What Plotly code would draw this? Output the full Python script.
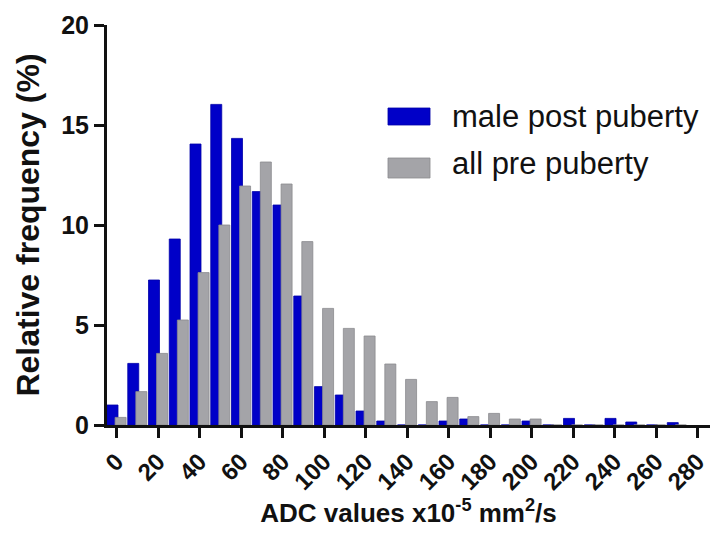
import plotly.graph_objects as go

# ADC bins (x10^-5 mm^2/s), bin centres
adc_bins = [0, 10, 20, 30, 40, 50, 60, 70, 80, 90, 100, 110, 120, 130,
            140, 150, 160, 170, 180, 190, 200, 210, 220, 230, 240, 250, 260, 270]
male_post = [1.0, 3.08, 7.25, 9.3, 14.05, 16.03, 14.33, 11.67, 11.0, 6.45,
             1.92, 1.5, 0.7, 0.2, 0, 0, 0.2, 0.3, 0, 0,
             0.2, 0, 0.33, 0, 0.33, 0.15, 0, 0.12]
all_pre = [0.38, 1.67, 3.58, 5.25, 7.62, 10.0, 11.95, 13.15, 12.05, 9.17,
           5.83, 4.83, 4.45, 3.05, 2.28, 1.17, 1.38, 0.42, 0.58, 0.3,
           0.3, 0, 0, 0, 0, 0, 0, 0]
x_ticks = list(range(0, 281, 20))
y_ticks = [0, 5, 10, 15, 20]

BLUE = "#0000C8"
GRAY = "#A4A4A8"
FONT = "Liberation Sans, Arial, sans-serif"

fig = go.Figure()
fig.add_trace(go.Bar(x=adc_bins, y=male_post, name="male post puberty",
                     width=5.3, offset=-4.6,
                     marker=dict(color=BLUE, line=dict(color="#0000A8", width=0.8)),
                     showlegend=False))
fig.add_trace(go.Bar(x=adc_bins, y=all_pre, name="all pre puberty",
                     width=5.3, offset=-0.7,
                     marker=dict(color=GRAY, line=dict(color="#8A8A8E", width=0.8)),
                     showlegend=False))

# legend drawn as swatches + text
fig.add_shape(type="rect", xref="paper", yref="paper", x0=0.466, x1=0.5357,
              y0=0.75, y1=0.7925, fillcolor=BLUE, line=dict(color="#0000A8", width=0.8))
fig.add_shape(type="rect", xref="paper", yref="paper", x0=0.466, x1=0.5357,
              y0=0.6175, y1=0.6675, fillcolor=GRAY, line=dict(color="#8A8A8E", width=0.8))
fig.add_annotation(xref="paper", yref="paper", x=0.569, y=0.7725, xanchor="left",
                   yanchor="middle", showarrow=False, text="male post puberty",
                   font=dict(family=FONT, size=31, color="#111"))
fig.add_annotation(xref="paper", yref="paper", x=0.569, y=0.655, xanchor="left",
                   yanchor="middle", showarrow=False, text="all pre puberty",
                   font=dict(family=FONT, size=31, color="#111"))

fig.update_layout(
    width=716, height=533,
    margin=dict(l=107, r=6, t=25, b=108),
    barmode="overlay",
    plot_bgcolor="white", paper_bgcolor="white",
    font=dict(family=FONT, color="#111"),
    xaxis=dict(range=[-4.6, 286], tickmode="array", tickvals=x_ticks,
               ticktext=[str(v) for v in x_ticks], tickangle=-45,
               ticks="outside", ticklen=10, tickwidth=3, tickcolor="#111",
               showline=True, linecolor="#111", linewidth=3,
               showgrid=False, zeroline=False,
               tickfont=dict(family=FONT, size=24, color="#111", weight="bold"),
               title=dict(text="ADC values x10<sup>-5</sup> mm<sup>2</sup>/s",
                          font=dict(family=FONT, size=26, color="#111", weight="bold"),
                          standoff=9),
               automargin=False),
    yaxis=dict(range=[0, 20], tickmode="array", tickvals=y_ticks,
               ticks="outside", ticklen=10, tickwidth=3, tickcolor="#111",
               showline=True, linecolor="#111", linewidth=3,
               showgrid=False, zeroline=False,
               tickfont=dict(family=FONT, size=25, color="#111", weight="bold"),
               title=dict(text="Relative frequency (%)",
                          font=dict(family=FONT, size=32, color="#111", weight="bold"),
                          standoff=12),
               automargin=False),
)

fig.write_html("out.html")
